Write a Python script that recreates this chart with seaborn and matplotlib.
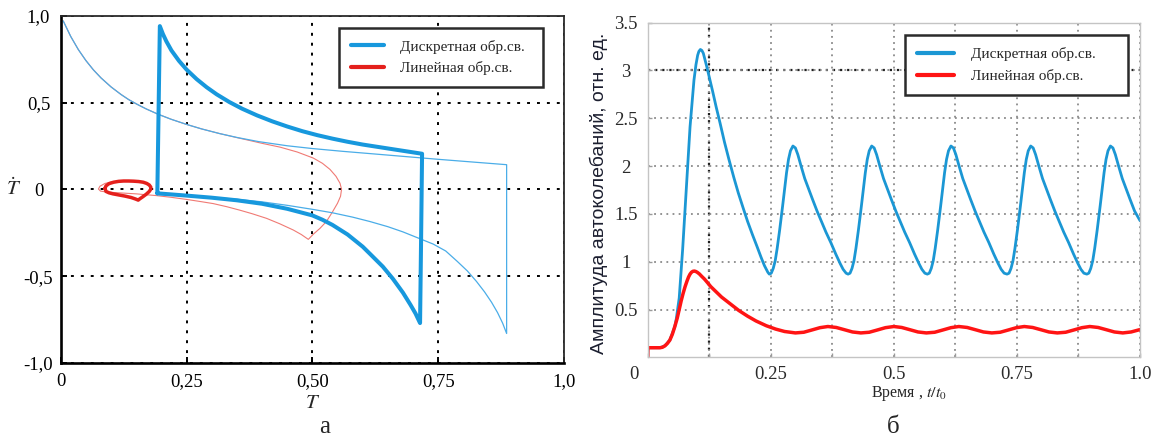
import matplotlib
matplotlib.use("Agg")
import matplotlib.pyplot as plt
import matplotlib.transforms as mtransforms
from matplotlib.lines import Line2D
import seaborn as sns

# ---------------- text ----------------
legend_labels = ["Дискретная обр.св.", "Линейная обр.св."]
left_xticks = [0, 0.25, 0.5, 0.75, 1.0]
left_xticklabels = ["0", "0,25", "0,50", "0,75", "1,0"]
left_yticks = [-1.0, -0.5, 0.0, 0.5, 1.0]
left_yticklabels = ["-1,0", "-0,5", "0", "0,5", "1,0"]
right_xticks = [0, 0.25, 0.5, 0.75, 1.0]
right_xticklabels = ["0", "0.25", "0.5", "0.75", "1.0"]
right_yticks = [0.5, 1.0, 1.5, 2.0, 2.5, 3.0, 3.5]
right_yticklabels = ["0.5", "1", "1.5", "2", "2.5", "3", "3.5"]
left_xlabel = r"$T$"
left_ylabel = r"$\dot{T}$"
right_xlabel = r"Время , $t/t_0$"
right_ylabel = "Амплитуда автоколебаний, отн. ед."
captions = ["а", "б"]

# ---------------- panel а : phase portrait ----------------
# discrete feedback, limit cycle (thick)
disc_loop_T = [0.192, 0.197, 0.203, 0.21, 0.22, 0.235, 0.25, 0.27, 0.29, 0.31, 0.335, 0.36,
               0.39, 0.42, 0.45, 0.48, 0.51, 0.54, 0.57, 0.60, 0.64, 0.68, 0.718,
               0.716, 0.714, 0.705, 0.695, 0.68, 0.66, 0.64, 0.614, 0.60, 0.57, 0.54, 0.52,
               0.50, 0.45, 0.40, 0.35, 0.30, 0.25, 0.192]
disc_loop_dT = [-0.023, 0.94, 0.895, 0.852, 0.80, 0.74, 0.69, 0.635, 0.588, 0.547, 0.503, 0.465,
                0.426, 0.392, 0.362, 0.335, 0.312, 0.292, 0.274, 0.258, 0.24, 0.222, 0.205,
                -0.30, -0.77, -0.715, -0.665, -0.595, -0.515, -0.445, -0.37, -0.33, -0.26, -0.205, -0.175,
                -0.15, -0.112, -0.083, -0.063, -0.048, -0.036, -0.023]
# discrete feedback, transient (thin)
disc_trans_T = [0.005, 0.02, 0.035, 0.05, 0.065, 0.08, 0.10, 0.12, 0.135, 0.151, 0.17, 0.194,
                0.22, 0.25, 0.28, 0.316, 0.35, 0.393, 0.45, 0.50, 0.56, 0.614, 0.68, 0.75,
                0.82, 0.886, 0.886, 0.878, 0.868, 0.856, 0.842, 0.826, 0.808, 0.788, 0.765, 0.74,
                0.71, 0.68, 0.65, 0.614, 0.58, 0.54, 0.50, 0.45, 0.40, 0.35, 0.30, 0.25, 0.195]
disc_trans_dT = [0.97, 0.88, 0.805, 0.742, 0.688, 0.642, 0.59, 0.546, 0.517, 0.491, 0.463, 0.432,
                 0.403, 0.374, 0.348, 0.321, 0.299, 0.275, 0.251, 0.235, 0.219, 0.206, 0.190, 0.173,
                 0.157, 0.142, -0.83, -0.77, -0.71, -0.65, -0.59, -0.53, -0.47, -0.415, -0.355, -0.315,
                 -0.28, -0.245, -0.215, -0.185, -0.16, -0.135, -0.115, -0.092, -0.072, -0.057, -0.046, -0.037, -0.03]
# linear feedback, transient (thin)
lin_trans_T = [0.005, 0.02, 0.035, 0.05, 0.065, 0.08, 0.10, 0.12, 0.135, 0.151, 0.17, 0.194,
               0.22, 0.25, 0.28, 0.316, 0.35, 0.376, 0.40, 0.436, 0.47, 0.502, 0.52, 0.535,
               0.547, 0.555, 0.558, 0.556, 0.55, 0.54, 0.528, 0.515, 0.502, 0.492, 0.478, 0.462,
               0.435, 0.409, 0.38, 0.356, 0.33, 0.303, 0.275, 0.25, 0.22, 0.19, 0.15, 0.11,
               0.09, 0.079, 0.075, 0.078, 0.088, 0.105]
lin_trans_dT = [0.97, 0.88, 0.805, 0.742, 0.688, 0.642, 0.59, 0.546, 0.517, 0.491, 0.463, 0.432,
                0.403, 0.374, 0.348, 0.321, 0.298, 0.281, 0.265, 0.243, 0.215, 0.18, 0.15, 0.115,
                0.075, 0.035, 0.0, -0.04, -0.08, -0.13, -0.185, -0.225, -0.258, -0.288, -0.26, -0.234,
                -0.198, -0.167, -0.14, -0.12, -0.1, -0.082, -0.069, -0.058, -0.046, -0.036, -0.026, -0.019,
                -0.015, -0.01, 0.002, 0.018, 0.034, 0.045]
# linear feedback, limit cycle (thick)
lin_loop_T = [0.088, 0.090, 0.096, 0.105, 0.115, 0.125, 0.135, 0.145, 0.155, 0.164, 0.171,
              0.176, 0.179, 0.179, 0.176, 0.170, 0.163, 0.157, 0.154, 0.149, 0.140, 0.128,
              0.115, 0.104, 0.096, 0.090, 0.088]
lin_loop_dT = [0.005, 0.020, 0.033, 0.041, 0.046, 0.048, 0.048, 0.047, 0.045, 0.041, 0.034,
               0.025, 0.013, 0.001, -0.012, -0.028, -0.043, -0.055, -0.062, -0.056, -0.047, -0.039,
               -0.032, -0.026, -0.020, -0.012, 0.005]

# ---------------- panel б : amplitude vs time ----------------
time_disc = [0.000, 0.0005, 0.025, 0.035, 0.045, 0.055, 0.058, 0.064, 0.071, 0.079, 0.086, 0.094,
             0.098, 0.1015, 0.104, 0.107, 0.110, 0.113, 0.116, 0.120, 0.126, 0.132, 0.139, 0.147,
             0.156, 0.165, 0.175, 0.184, 0.194, 0.203, 0.213, 0.222, 0.230, 0.237, 0.241, 0.244,
             0.247, 0.251, 0.255, 0.259, 0.263, 0.268, 0.274, 0.278, 0.282, 0.286, 0.290, 0.295,
             0.300, 0.305, 0.311, 0.319, 0.327, 0.335, 0.344, 0.353, 0.362, 0.372, 0.382, 0.391,
             0.397, 0.403,
             0.407, 0.411, 0.415, 0.419, 0.423, 0.428, 0.434, 0.438, 0.442, 0.446, 0.450, 0.455,
             0.460, 0.465, 0.471, 0.479, 0.487, 0.495, 0.504, 0.513, 0.522, 0.532, 0.542, 0.551,
             0.557, 0.563,
             0.568, 0.572, 0.576, 0.580, 0.584, 0.589, 0.595, 0.599, 0.603, 0.607, 0.611, 0.616,
             0.621, 0.626, 0.632, 0.640, 0.648, 0.656, 0.665, 0.674, 0.683, 0.693, 0.703, 0.712,
             0.718, 0.724,
             0.730, 0.734, 0.738, 0.742, 0.746, 0.751, 0.757, 0.761, 0.765, 0.769, 0.773, 0.778,
             0.783, 0.788, 0.794, 0.802, 0.810, 0.818, 0.827, 0.836, 0.845, 0.855, 0.865, 0.874,
             0.880, 0.886,
             0.892, 0.896, 0.900, 0.904, 0.908, 0.913, 0.919, 0.923, 0.927, 0.931, 0.935, 0.940,
             0.945, 0.950, 0.956, 0.964, 0.972, 0.980, 0.989, 1.000]
amp_disc = [0.00, 0.10, 0.10, 0.12, 0.18, 0.32, 0.40, 0.62, 1.13, 1.82, 2.41, 2.90,
            3.06, 3.16, 3.20, 3.22, 3.21, 3.18, 3.12, 3.04, 2.91, 2.78, 2.62, 2.45,
            2.25, 2.07, 1.88, 1.72, 1.56, 1.42, 1.28, 1.16, 1.05, 0.96, 0.92, 0.89,
            0.87, 0.88, 0.93, 1.01, 1.14, 1.33, 1.58, 1.76, 1.93, 2.07, 2.16, 2.21,
            2.19, 2.12, 2.01, 1.87, 1.76, 1.65, 1.53, 1.42, 1.31, 1.20, 1.08, 0.98,
            0.92, 0.88,
            0.87, 0.88, 0.93, 1.01, 1.14, 1.33, 1.58, 1.76, 1.93, 2.07, 2.16, 2.21,
            2.19, 2.12, 2.01, 1.87, 1.76, 1.65, 1.53, 1.42, 1.31, 1.20, 1.08, 0.98,
            0.92, 0.88,
            0.87, 0.88, 0.93, 1.01, 1.14, 1.33, 1.58, 1.76, 1.93, 2.07, 2.16, 2.21,
            2.19, 2.12, 2.01, 1.87, 1.76, 1.65, 1.53, 1.42, 1.31, 1.20, 1.08, 0.98,
            0.92, 0.88,
            0.87, 0.88, 0.93, 1.01, 1.14, 1.33, 1.58, 1.76, 1.93, 2.07, 2.16, 2.21,
            2.19, 2.12, 2.01, 1.87, 1.76, 1.65, 1.53, 1.42, 1.31, 1.20, 1.08, 0.98,
            0.92, 0.88,
            0.87, 0.88, 0.93, 1.01, 1.14, 1.33, 1.58, 1.76, 1.93, 2.07, 2.16, 2.21,
            2.19, 2.12, 2.01, 1.87, 1.76, 1.65, 1.53, 1.43]

time_lin = [0.000, 0.0005, 0.025, 0.030, 0.035, 0.040, 0.045, 0.050, 0.055, 0.060, 0.064, 0.068,
            0.072, 0.076, 0.080, 0.083, 0.086, 0.089, 0.092, 0.095, 0.098, 0.101, 0.105, 0.110,
            0.115, 0.120, 0.128, 0.140, 0.150, 0.165, 0.185, 0.203, 0.220, 0.241, 0.260,
            0.278, 0.300, 0.317, 0.333, 0.350, 0.366, 0.383, 0.400, 0.416, 0.433, 0.450, 0.466,
            0.483, 0.500, 0.516, 0.533, 0.549, 0.566, 0.583, 0.599, 0.616, 0.632, 0.649, 0.666,
            0.682, 0.699, 0.716, 0.732, 0.749, 0.765, 0.782, 0.799, 0.815, 0.832, 0.849, 0.865,
            0.882, 0.898, 0.915, 0.932, 0.948, 0.965, 0.982, 1.000]
amp_lin = [0.00, 0.10, 0.10, 0.105, 0.12, 0.145, 0.18, 0.24, 0.32, 0.41, 0.50, 0.59,
           0.67, 0.74, 0.80, 0.84, 0.87, 0.89, 0.90, 0.902, 0.897, 0.888, 0.872, 0.845,
           0.82, 0.79, 0.74, 0.68, 0.63, 0.57, 0.49, 0.43, 0.38, 0.33, 0.295,
           0.27, 0.255, 0.262, 0.285, 0.31, 0.322, 0.312, 0.288, 0.265, 0.255, 0.262, 0.285,
           0.31, 0.322, 0.312, 0.288, 0.265, 0.255, 0.262, 0.285, 0.31, 0.322, 0.312, 0.288,
           0.265, 0.255, 0.262, 0.285, 0.31, 0.322, 0.312, 0.288, 0.265, 0.255, 0.262, 0.285,
           0.31, 0.322, 0.312, 0.288, 0.265, 0.255, 0.265, 0.29]

# ---------------- style ----------------
sns.set_theme(style="white")
plt.rcParams["font.family"] = ["Liberation Serif", "DejaVu Serif"]
plt.rcParams["mathtext.fontset"] = "stix"
plt.rcParams["lines.solid_joinstyle"] = "round"
plt.rcParams["lines.solid_capstyle"] = "round"

BLUE = "#1798dd"
BLUE_THIN = "#4aade8"
RED = "#e4201c"
RED_THIN = "#f07a74"
BLUE2 = "#1b97d4"
RED2 = "#ff1414"

W, H = 1161, 436
fig = plt.figure(figsize=(W / 100, H / 100), dpi=100)
fig.patch.set_facecolor("white")

# axes boxes in pixel coordinates
L = dict(x0=60.7, x1=564.0, y0=15.7, y1=363.0)
R = dict(x0=647.7, x1=1140.0, y0=22.7, y1=357.3)
ax1 = fig.add_axes([L["x0"] / W, 1 - L["y1"] / H, (L["x1"] - L["x0"]) / W, (L["y1"] - L["y0"]) / H])
ax2 = fig.add_axes([R["x0"] / W, 1 - R["y1"] / H, (R["x1"] - R["x0"]) / W, (R["y1"] - R["y0"]) / H])

# ---------- panel а ----------
sns.lineplot(x=lin_trans_T, y=lin_trans_dT, sort=False, estimator=None, ax=ax1,
             color=RED_THIN, lw=0.8)
sns.lineplot(x=disc_trans_T, y=disc_trans_dT, sort=False, estimator=None, ax=ax1,
             color=BLUE_THIN, lw=0.9)
sns.lineplot(x=disc_loop_T, y=disc_loop_dT, sort=False, estimator=None, ax=ax1,
             color=BLUE, lw=2.9)
sns.lineplot(x=lin_loop_T, y=lin_loop_dT, sort=False, estimator=None, ax=ax1,
             color=RED, lw=2.5)

ax1.set_xlim(0, 1)
ax1.set_ylim(-1, 1)
ax1.set_xticks(left_xticks)
ax1.set_xticklabels(left_xticklabels)
ax1.set_yticks(left_yticks)
ax1.set_yticklabels(left_yticklabels)
ax1.set_axisbelow(True)
ax1.grid(True, color="black", linestyle=(0, (1.5, 3.6)), lw=1.4)
ax1.tick_params(axis="both", direction="in", length=4, width=1.4, colors="black",
                labelsize=13.5, left=True, bottom=True)
ax1.tick_params(axis="x", pad=7)
ax1.tick_params(axis="y", pad=16)
for lab in ax1.get_yticklabels():
    lab.set_horizontalalignment("center")
for side in ["left", "bottom"]:
    ax1.spines[side].set_color("black")
    ax1.spines[side].set_linewidth(1.9)
for side in ["top", "right"]:
    ax1.spines[side].set_color("#2a2a2a")
    ax1.spines[side].set_linewidth(1.3)
ax1.set_xlabel(left_xlabel, fontsize=15)
ax1.xaxis.set_label_coords(0.5, (L["y1"] - 403) / (L["y1"] - L["y0"]))
ax1.xaxis.label.set_va("center")
ax1.set_ylabel(left_ylabel, fontsize=15, rotation=0)
ax1.yaxis.set_label_coords((14 - L["x0"]) / (L["x1"] - L["x0"]), 0.5)
ax1.yaxis.label.set_va("center")
ax1.yaxis.label.set_ha("center")

h1 = [Line2D([], [], color=BLUE, lw=3.0), Line2D([], [], color=RED, lw=3.0)]
lx0 = (339.3 - L["x0"]) / (L["x1"] - L["x0"])
lx1 = (542.7 - L["x0"]) / (L["x1"] - L["x0"])
ly1 = (L["y1"] - 28.3) / (L["y1"] - L["y0"])
ly0 = (L["y1"] - 91.7) / (L["y1"] - L["y0"])
leg1 = ax1.legend(h1, legend_labels, loc="upper left",
                  bbox_to_anchor=(lx0, ly0, lx1 - lx0, ly1 - ly0), mode="expand",
                  borderaxespad=0, borderpad=0.75, labelspacing=0.5, handlelength=2.2,
                  handletextpad=1.05, fancybox=False, frameon=True, fontsize=11)
leg1.get_frame().set_edgecolor("#2b2b2b")
leg1.get_frame().set_linewidth(1.8)
leg1.get_frame().set_alpha(1)

# ---------- panel б ----------
sns.lineplot(x=time_disc, y=amp_disc, ax=ax2, color=BLUE2, lw=2.0, sort=False, estimator=None)
sns.lineplot(x=time_lin, y=amp_lin, ax=ax2, color=RED2, lw=2.5, sort=False, estimator=None)

ax2.set_xlim(0, 1)
ax2.set_ylim(0, 3.5)
ax2.set_xticks(right_xticks)
ax2.set_xticklabels(right_xticklabels)
ax2.set_xticks([0.125, 0.375, 0.625, 0.875], minor=True)
ax2.set_yticks(right_yticks)
ax2.set_yticklabels(right_yticklabels)
ax2.set_axisbelow(True)
ax2.grid(True, which="both", axis="x", color="#8a8a8a", linestyle=(0, (1, 2.4)), lw=1.3)
ax2.grid(True, which="major", axis="y", color="#8a8a8a", linestyle=(0, (1, 2.4)), lw=1.3)
ax2.axvline(0.125, color="#1e1e1e", linestyle=(0, (1, 2.2)), lw=1.6, zorder=0.5)
ax2.axhline(3.0, color="#1e1e1e", linestyle=(0, (1, 2.2)), lw=1.6, zorder=0.5)
ax2.tick_params(axis="both", which="both", direction="in", length=3, width=1,
                colors="#9a9a9a", labelcolor="#2a2a2a", labelsize=13.5, left=True, bottom=True)
ax2.tick_params(axis="x", pad=6)
ax2.tick_params(axis="y", pad=15.5)
for lab in ax2.get_yticklabels():
    lab.set_horizontalalignment("center")
for side in ["left", "bottom", "top", "right"]:
    ax2.spines[side].set_color("#c4c4c4")
    ax2.spines[side].set_linewidth(1.0)
# the "0" label of the time axis sits slightly to the left of the origin
xl0 = ax2.get_xticklabels()[0]
xl0.set_transform(xl0.get_transform() + mtransforms.ScaledTranslation(-10 / 72, 0, fig.dpi_scale_trans))

ax2.set_xlabel(right_xlabel, fontsize=11.5)
ax2.xaxis.set_label_coords((909 - R["x0"]) / (R["x1"] - R["x0"]), (R["y1"] - 393) / (R["y1"] - R["y0"]))
ax2.xaxis.label.set_va("center")
ax2.set_ylabel(right_ylabel, fontsize=14, family=["Liberation Sans", "DejaVu Sans"], color="#1c1f30")
ax2.yaxis.set_label_coords((598.5 - R["x0"]) / (R["x1"] - R["x0"]), 0.49)
ax2.yaxis.label.set_va("center")

h2 = [Line2D([], [], color=BLUE2, lw=3.0), Line2D([], [], color=RED2, lw=3.0)]
rx0 = (905 - R["x0"]) / (R["x1"] - R["x0"])
rx1 = (1128 - R["x0"]) / (R["x1"] - R["x0"])
ry1 = (R["y1"] - 35) / (R["y1"] - R["y0"])
ry0 = (R["y1"] - 103) / (R["y1"] - R["y0"])
leg2 = ax2.legend(h2, legend_labels, loc="upper left",
                  bbox_to_anchor=(rx0, ry0, rx1 - rx0, ry1 - ry0), mode="expand",
                  borderaxespad=0, borderpad=0.8, labelspacing=0.5, handlelength=2.4,
                  handletextpad=1.15, fancybox=False, frameon=True, fontsize=11)
leg2.get_frame().set_edgecolor("#2b2b2b")
leg2.get_frame().set_linewidth(1.8)
leg2.get_frame().set_alpha(1)

# captions
fig.text(324.6 / W, 1 - 426.7 / H, captions[0], ha="center", va="center", fontsize=18)
fig.text(892.8 / W, 1 - 426.7 / H, captions[1], ha="center", va="center", fontsize=18)

fig.savefig("out.png", dpi=100, facecolor="white")
